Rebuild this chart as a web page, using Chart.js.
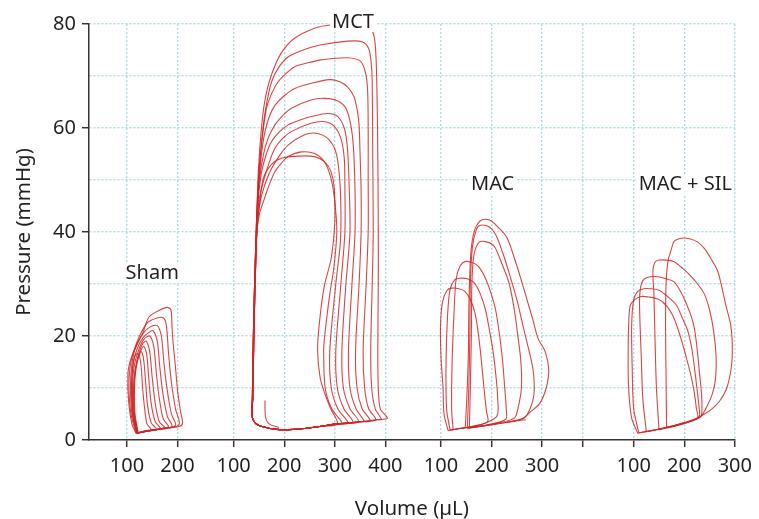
<!DOCTYPE html>
<html>
<head>
<meta charset="utf-8">
<script src="https://cdn.jsdelivr.net/npm/chart.js@4.4.1/dist/chart.umd.min.js"></script>
<style>
  html, body { margin: 0; padding: 0; background: #fff; }
</style>
</head>
<body>
<canvas id="pvChart" width="759" height="519"></canvas>
<script>
// pressure-volume loops, [volume µL, pressure mmHg]
const shamLoops = [
  [[118,1.3],[110,3],[103,7.7],[102,12.8],[106,15],[112,16.7],[122,18.7],[131,20.5],[144,23.7],[165,25],[180,25.5],[187,25],[189,22],[191,19],[196,14],[200,9.6],[206,5.5],[210,3.2],[203,2.6],[170,2.2],[140,1.8],[118,1.3]],
  [[118,1.3],[108,5],[104,10],[106,14],[113,17],[125,20],[140,22.5],[158,23.4],[172,23.5],[178,22],[182,17],[188,11],[196,6],[203,2.9],[170,2.2],[140,1.7],[118,1.3]],
  [[119,1.3],[110,5],[107,10],[109,14],[116,17.5],[128,20],[145,21.7],[160,22],[168,20],[173,15],[179,10],[188,5],[196,2.8],[165,2.1],[135,1.6],[119,1.3]],
  [[120,1.3],[111,5],[109,10],[112,14.5],[120,17.5],[132,19.7],[145,20.8],[152,21],[160,19],[165,14],[171,9],[180,4.5],[189,2.6],[160,2.0],[135,1.6],[120,1.3]],
  [[120,1.3],[112,5],[111,10],[114,14],[122,17],[133,19.3],[145,20],[153,18],[158,13],[164,8],[172,4],[182,2.5],[150,1.9],[120,1.3]],
  [[121,1.4],[114,5],[113,10],[116,13.5],[123,16.5],[131,18.5],[138,19],[145,17],[150,12],[156,7],[164,3.5],[174,2.4],[145,1.8],[121,1.4]],
  [[122,1.4],[115,5],[114,10],[117,13.5],[124,16.3],[133,18],[139,16.5],[143,12],[148,7],[156,3.5],[166,2.2],[140,1.8],[122,1.4]],
  [[122,1.4],[116,5],[115,10],[117,13],[122,15.8],[128,17],[133,15.5],[137,11],[141,6.5],[148,3.3],[158,2.1],[135,1.7],[122,1.4]],
  [[120,1.3],[113,5],[110,10],[111,13.5],[115,16],[121,16.6],[127,15],[131,10],[135,6],[140,3],[148,2],[130,1.6],[120,1.3]]
];

// MCT: systolic arcs (left side, top, right side) and the shared filling line
const mctArcs = [
  [[137,8],[139,20],[142,32],[146,44],[149,52],[155,60],[162,65.4],[174,70],[194,74.4],[221,77.3],[260,79.2],[290,79.8],[330,80],[364,79.8],[374,78.8],[380,76],[383,69],[385,55],[386,40],[386,30],[385,17],[386,10],[390,6],[404,4.2]],
  [[138,8],[140,20],[143,32],[147,44],[151,52],[156,58],[163,63.5],[175,68.9],[190,71.8],[208,73.7],[240,75.1],[273,76],[325,76.7],[354,76.6],[367,75.3],[372,72.5],[374,68.9],[375,55],[376,40],[374,30],[371,17],[373,10],[380,6],[392,4.0]],
  [[137,8],[139,20],[142,32],[146,44],[150,52],[157,58.5],[165,63.8],[176,66.8],[188,68.9],[205,70.6],[221,71.8],[250,72.6],[273,73.1],[325,73.5],[351,72.8],[361,70.5],[365,67],[366,60],[366,50],[366,40],[362,30],[356,17],[359,10],[367,6],[381,3.9]],
  [[138,8],[140,20],[143,32],[147,44],[152,52],[157,56.5],[162,59.3],[171,62.3],[182,64.4],[200,66.2],[221,67.6],[250,68.5],[290,69.3],[310,68.9],[325,67.9],[338,66],[345,63],[348,60.6],[350,55],[352,48],[352,40],[348,30],[341,17],[344,10],[354,6],[370,3.7]],
  [[137,8],[139,20],[142,32],[146,44],[151,50],[158.7,54.8],[168,58],[181.6,60.6],[196,62.3],[214,63.8],[253,65.4],[280,65.7],[306,65.2],[322,63.8],[331.6,60.6],[337,56],[340,48],[340,40],[334,30],[327,17],[330,10],[342,6],[358,3.6]],
  [[138,8],[140,20],[143,32],[147,44],[151,48.5],[155.4,51.6],[164,54.8],[175,57.4],[190,59.2],[207.7,60.6],[230,61.5],[253,62.2],[286,62.8],[306,62.2],[319,59.9],[325,56.1],[328,50],[330,40],[322,30],[314,17],[317,10],[330,6],[347,3.5]],
  [[137,8],[139,20],[142,32],[146,42],[151,46.5],[158.7,49.7],[170,53.3],[181.6,56.1],[196,57.9],[214,59.3],[253,60.9],[280,61.2],[299,60.3],[312,58],[318.7,54.2],[320,48.4],[320,40],[312,30],[302,17],[305,10],[318,6],[336,3.4]],
  [[138,8],[140,20],[143,32],[147,42],[151,45],[155.4,47.1],[165,50],[175,52.2],[190,54.6],[207.7,56.7],[240,58.7],[263,59],[286,58],[302,55.4],[309,51],[312,44.6],[311,38],[302,30],[290,17],[293,10],[306,6],[326,3.3]],
  [[137,8],[139,20],[142,32],[146,40],[151,43.5],[158.7,45.8],[170,49],[181.6,51.6],[195,53.3],[207.7,54.5],[234,55.4],[260,55.1],[279.5,53.5],[292.5,50.3],[300,45.8],[304,40],[298,33],[290,28],[280,20],[278,17],[281,10],[294,6],[315,3.2]],
  [[138,8],[140,20],[143,32],[146,40],[151,45],[158.7,50.3],[175,53],[194.5,54.2],[230,54.6],[260,54.5],[280,53.5],[292.5,51.6],[299,48.4],[300,42],[293,35],[279,29.5],[269,22],[266,17],[271,12],[280,9],[292,6],[305,3.1]]
];
const mctBottom = [[404,4.2],[385,3.9],[350,3.5],[305,3.1],[270,2.6],[240,2.2],[210,2.0],[180,2.1],[160,2.5],[148,2.9],[140,3.6],[136,5]];
const mctStub = [[162,7.6],[163,4.5],[170,3.1],[190,2.4]];

const macLoops = [
  [[148,2.4],[151,8],[154,16],[155,25],[157,32],[160,37],[167,40.5],[180,42.3],[196,42.3],[212,41],[230,39],[245,35],[258,31],[270,27],[282,23],[292,19.5],[306,17],[313,13.5],[308,10],[295,7],[278,5.5],[262,4.2],[230,3.4],[190,2.8],[160,2.4],[148,2.4]],
  [[152,2.2],[155,10],[157,20],[158,30],[162,37],[170,40.5],[178,41.3],[195,41],[208,39.5],[222,36],[235,32],[250,27],[262,22],[272,18],[282,13.5],[284,9],[276,6],[264,4.2],[230,3.4],[190,2.8],[152,2.2]],
  [[156,2.3],[158,10],[160,20],[161,30],[165,35.5],[175,38],[190,38.1],[205,37.3],[220,34],[235,30],[245,25],[252,20],[258,15],[259,10],[252,6],[245,4.2],[210,3.2],[175,2.6],[156,2.3]],
  [[124,2.0],[121,6],[122,15],[126,25],[130,31],[138,33.5],[147,34.3],[160,34.2],[173,33.5],[186,31.5],[198,28.5],[208,25],[216,20],[222,15],[226,10],[229,6],[228,4],[190,2.9],[150,2.4],[124,2.0]],
  [[118,1.9],[111,6],[110,15],[113,24],[118,29],[127,30.8],[137,31.1],[152,31],[166,30.2],[178,28],[188,25],[196,21],[203,17],[209,12],[212,8],[210,4.5],[170,2.7],[135,2.2],[118,1.9]],
  [[114,1.8],[106,5],[104,10],[100,16],[99,22],[103,26.5],[112,28.8],[121,29.2],[135,29.1],[147,28.6],[158,27],[167,24.5],[173,21],[178,17],[182,13],[186,9],[190,5.5],[192,3.5],[160,2.6],[130,2.1],[114,1.8]]
];
const macTail = [[230,3.4],[250,3.7],[268,3.9]];

const silLoops = [
  [[165,2.4],[164,12],[163,22],[164,30],[168,34.5],[174,36.5],[180,38.2],[195,38.8],[210,38.7],[226,38.1],[240,36.8],[255,34.5],[266,32.5],[274,29.5],[282,26],[292,22],[295,18],[293,14],[284,10],[270,7.5],[255,6],[240,5],[225,4.2],[195,3.2],[165,2.4]],
  [[150,2.0],[145,10],[142,20],[140,28],[138,32.5],[142,34.2],[150,34.6],[165,34.6],[180,34.3],[197,33],[213,31.5],[228,29.8],[240,28],[250,25],[258,21],[263,16],[262,12],[256,9],[245,6.5],[232,4.5],[200,3.3],[170,2.5],[150,2.0]],
  [[125,1.6],[118,8],[115,16],[112,24],[112,28],[117,30.5],[128,31.3],[148,31.4],[165,31],[180,30.4],[193,28.5],[203,26.5],[213,24],[220,21.5],[226,17],[230,13],[234,9],[235,6],[232,4.4],[200,3.2],[160,2.2],[125,1.6]],
  [[110,1.4],[100,6],[97,14],[96,22],[100,27],[108,28.6],[120,29.1],[133,29.1],[150,28.8],[168,27.5],[184,26],[196,23.5],[207,21],[215,17.5],[220,14],[225,10],[229,6.5],[229,4.5],[200,3.2],[150,2.1],[110,1.4]],
  [[108,1.3],[96,4.2],[90,10],[89,16],[90,22],[93,25.8],[102,27],[115,27.6],[130,27.5],[150,27],[165,25.8],[177,24],[187,21.5],[195,19],[205,15.5],[213,12.5],[220,9],[224,6],[226,4.2],[190,3],[140,1.9],[108,1.3]]
];

const panelNames = ['Sham', 'MCT', 'MAC', 'MAC + SIL'];
const shamTicks = [100, 200];
const mctTicks = [100, 200, 300, 400];
const macTicks = [100, 200, 300];
const silTicks = [0, 100, 200, 300];
const xTickLabels = ['100', '200', '100', '200', '300', '400', '100', '200', '300', '', '100', '200', '300'];
const yTicks = [0, 20, 40, 60, 80];

// panels share one x axis, each shifted along it
const panelShift = [0, 211, 621, 1002];
const labelSpot = [[150, 32.1], [336, 80.4], [202, 49.2], [202, 49.2]];

const LINE = 'rgba(208, 36, 36, 0.85)';
const GRID = 'rgba(120, 198, 208, 0.6)';
const INK = '#231f20';
const FONT = "'Noto Sans', 'Open Sans', sans-serif";

function toPoints(loop, shift) {
  return loop.map(p => ({ x: p[0] + shift, y: p[1] }));
}

function closeMct(arc) {
  const end = arc[arc.length - 1][0];
  return arc.concat(mctBottom.filter(p => p[0] < end), [arc[0]]);
}

const datasets = [];
const addLoop = (loop, shift) => datasets.push({
  data: toPoints(loop, shift),
  showLine: true,
  borderColor: LINE,
  borderWidth: 1.1,
  pointRadius: 0,
  tension: 0.3,
  fill: false,
  clip: 8
});
shamLoops.forEach(l => addLoop(l, panelShift[0]));
mctArcs.forEach(a => addLoop(closeMct(a), panelShift[1]));
addLoop(mctStub, panelShift[1]);
macLoops.forEach(l => addLoop(l, panelShift[2]));
addLoop(macTail, panelShift[2]);
silLoops.forEach(l => addLoop(l, panelShift[3]));

const xTickValues = [shamTicks, mctTicks, macTicks, silTicks]
  .flatMap((t, i) => t.map(v => v + panelShift[i]));

const panelLabelPlugin = {
  id: 'panelLabels',
  afterDatasetsDraw(chart) {
    const { ctx, scales: { x, y } } = chart;
    ctx.save();
    ctx.font = '20px ' + FONT;
    ctx.textAlign = 'center';
    ctx.textBaseline = 'middle';
    panelNames.forEach((name, i) => {
      const px = x.getPixelForValue(labelSpot[i][0] + panelShift[i]);
      const py = y.getPixelForValue(labelSpot[i][1]);
      const w = ctx.measureText(name).width;
      ctx.fillStyle = '#fff';
      ctx.fillRect(px - w / 2 - 2, py - 10, w + 4, 20);
      ctx.fillStyle = INK;
      ctx.fillText(name, px, py);
    });
    ctx.restore();
  }
};

new Chart(document.getElementById('pvChart'), {
  type: 'scatter',
  data: { datasets },
  options: {
    responsive: false,
    animation: false,
    devicePixelRatio: 1,
    layout: { padding: { top: 24, right: 19, left: 0, bottom: 0 } },
    plugins: { legend: { display: false }, tooltip: { enabled: false } },
    scales: {
      x: {
        type: 'linear',
        min: 25,
        max: 1302,
        afterFit: s => { s.height = 79; },
        afterBuildTicks: s => { s.ticks = xTickValues.map(v => ({ value: v })); },
        ticks: {
          autoSkip: false,
          maxRotation: 0,
          padding: 7,
          color: INK,
          font: { family: FONT, size: 20 },
          callback: (v, i) => xTickLabels[i]
        },
        grid: {
          color: GRID,
          lineWidth: 1.4,
          tickLength: 7,
          tickColor: '#333',
          tickWidth: 1.5,
          tickBorderDash: []
        },
        border: { display: true, color: '#333', width: 1.5, dash: [2, 2] },
        title: {
          display: true,
          text: 'Volume (µL)',
          color: INK,
          font: { family: FONT, size: 20.5 },
          padding: { top: 0, bottom: -2 }
        }
      },
      y: {
        min: 0,
        max: 80,
        afterFit: s => { s.width = 89; },
        ticks: {
          stepSize: 10,
          padding: 6,
          color: INK,
          font: { family: FONT, size: 20 },
          callback: v => (yTicks.includes(v) ? String(v) : '')
        },
        grid: {
          color: c => (c.tick && c.tick.value === 0 ? 'rgba(0,0,0,0)' : GRID),
          lineWidth: 1.4,
          tickLength: 7,
          tickColor: c => (c.tick && yTicks.includes(c.tick.value) ? '#333' : 'rgba(0,0,0,0)'),
          tickWidth: 1.5,
          tickBorderDash: []
        },
        border: { display: true, color: '#333', width: 1.5, dash: [2, 2] },
        title: {
          display: true,
          text: 'Pressure (mmHg)',
          color: INK,
          font: { family: FONT, size: 20.5 },
          padding: { top: 11.5, bottom: 0 }
        }
      }
    }
  },
  plugins: [panelLabelPlugin]
});
</script>
</body>
</html>
